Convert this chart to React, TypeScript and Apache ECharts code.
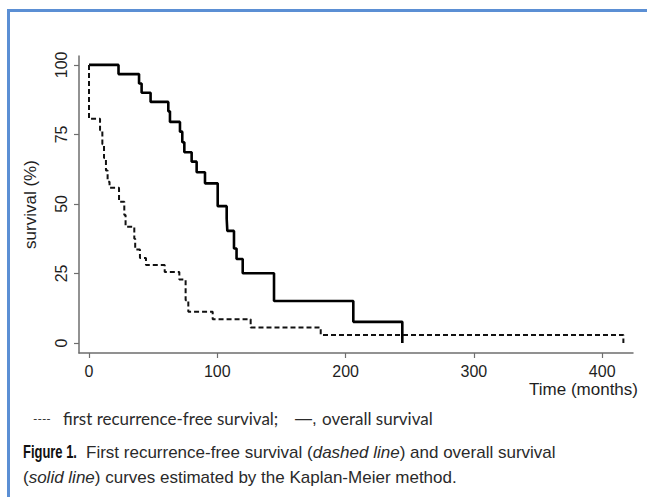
import React, { useEffect, useRef } from "react";
import * as echarts from "echarts";

// Overall survival (solid line): time in months, survival in %
const osTimes = [0, 23, 39, 41, 48, 61.8, 63.1, 70.9, 72.7, 74.3, 80, 83.9, 90.4, 100.3, 107.3, 107.8, 113, 115, 119.8, 144.2, 206, 244.2];
const osSurv = [100, 96.7, 93.3, 90, 86.7, 83.3, 79.5, 76, 72.2, 68.6, 65.2, 61.4, 57.4, 49.2, 44.8, 40.3, 34, 30.2, 25.1, 15.1, 7.6, 0];

// First recurrence-free survival (dashed line)
const rfsTimes = [0, 0, 8.6, 10.4, 11.7, 13.2, 14.5, 16, 23.4, 27.5, 28.5, 35.3, 36, 39.7, 44.4, 59, 70.4, 75.3, 77.4, 96.4, 126, 180.6, 416.5];
const rfsSurv = [100, 80.6, 76.5, 71.5, 66.5, 62, 58, 55.8, 50.8, 46, 41.8, 37.5, 33.6, 30.6, 28, 25.5, 22.8, 15.4, 11.2, 8.5, 5.6, 2.9, 0];

const xTicks = [0, 100, 200, 300, 400];
const yTicks = [0, 25, 50, 75, 100];

const legendDashed = "----";
const legendRfs = "first recurrence-free survival;";
const legendSolid = "\u2014,";
const legendOs = "overall survival";
const captionLabel = "Figure 1.";
const captionLine1 = "First recurrence-free survival ({i|dashed line}) and overall survival";
const captionLine2 = "({i|solid line}) curves estimated by the Kaplan-Meier method.";

const axisColor = "#6e6e6e";
const textColor = "#1e1e1e";
const font = "'Liberation Sans', Arial, sans-serif";
const legendFont = "Lato, 'Open Sans', sans-serif";

export default function App() {
  const ref = useRef<HTMLDivElement>(null);
  useEffect(() => {
    if (!ref.current) return;
    const chart = echarts.init(ref.current, null, { renderer: "svg" });
    const os = osTimes.map((t, i) => [t, osSurv[i]]);
    const rfs = rfsTimes.map((t, i) => [t, rfsSurv[i]]);
    const legendStyle = (text: string) => ({
      text,
      fontSize: 17,
      fill: "#2b2b2b",
      fontFamily: legendFont,
      textVerticalAlign: "middle",
    });
    const captionStyle = (text: string) => ({
      text,
      fontSize: 17,
      fill: "#2a2a2a",
      fontFamily: font,
      textVerticalAlign: "middle",
      rich: {
        i: { fontSize: 17, fontStyle: "italic", fontFamily: font, fill: "#2a2a2a" },
      },
    });
    chart.setOption({
      animation: false,
      backgroundColor: "#ffffff",
      grid: { left: 79, right: 14, top: 56, bottom: 144 },
      xAxis: {
        type: "value",
        min: -7.8,
        max: 424,
        splitLine: { show: false },
        axisLine: { show: true, onZero: false, lineStyle: { color: axisColor, width: 1.5 } },
        axisTick: { show: true, customValues: xTicks, length: 5, lineStyle: { color: axisColor, width: 1.2 } },
        axisLabel: { customValues: xTicks, margin: 10, fontSize: 16, color: textColor, fontFamily: font },
      },
      yAxis: {
        type: "value",
        min: -3.6,
        max: 103.2,
        name: "survival (%)",
        nameLocation: "middle",
        nameRotate: 90,
        nameGap: 40,
        nameTextStyle: { fontSize: 17, color: textColor, fontFamily: font },
        splitLine: { show: false },
        axisLine: { show: true, onZero: false, lineStyle: { color: axisColor, width: 1.5 } },
        axisTick: { show: true, customValues: yTicks, length: 5, lineStyle: { color: axisColor, width: 1.2 } },
        axisLabel: { customValues: yTicks, rotate: 90, margin: 10, fontSize: 16, color: textColor, fontFamily: font },
      },
      series: [
        {
          name: "overall survival",
          type: "line",
          step: "end",
          data: os,
          symbol: "none",
          lineStyle: { color: "#000000", width: 2.6, type: "solid" },
        },
        {
          name: "first recurrence-free survival",
          type: "line",
          step: "end",
          data: rfs,
          symbol: "none",
          lineStyle: { color: "#111111", width: 2, type: [5, 3] },
        },
      ],
      graphic: [
        {
          type: "rect",
          shape: { x: 8.5, y: 10.5, width: 700, height: 600 },
          style: { fill: "none", stroke: "#5b8fd4", lineWidth: 3 },
          silent: true,
        },
        {
          type: "text",
          x: 638,
          y: 381,
          style: { text: "Time (months)", fontSize: 17, fill: textColor, fontFamily: font, textAlign: "right", textVerticalAlign: "top" },
        },
        { type: "text", x: 33, y: 418, style: { ...legendStyle(legendDashed), fontSize: 12 } },
        { type: "text", x: 63, y: 418, style: legendStyle(legendRfs) },
        { type: "text", x: 295, y: 418, style: { ...legendStyle(legendSolid), fontFamily: font } },
        { type: "text", x: 322, y: 418, style: legendStyle(legendOs) },
        {
          type: "text",
          x: 23,
          y: 452,
          scaleX: 0.72,
          style: { text: captionLabel, fontSize: 18, fontWeight: "bold", fill: "#111", fontFamily: font, textVerticalAlign: "middle" },
        },
        { type: "text", x: 86, y: 452, style: captionStyle(captionLine1) },
        { type: "text", x: 23, y: 477, style: captionStyle(captionLine2) },
      ],
    });
    return () => chart.dispose();
  }, []);
  return <div ref={ref} style={{ position: "absolute", left: 0, top: 0, width: 647, height: 497 }} />;
}
